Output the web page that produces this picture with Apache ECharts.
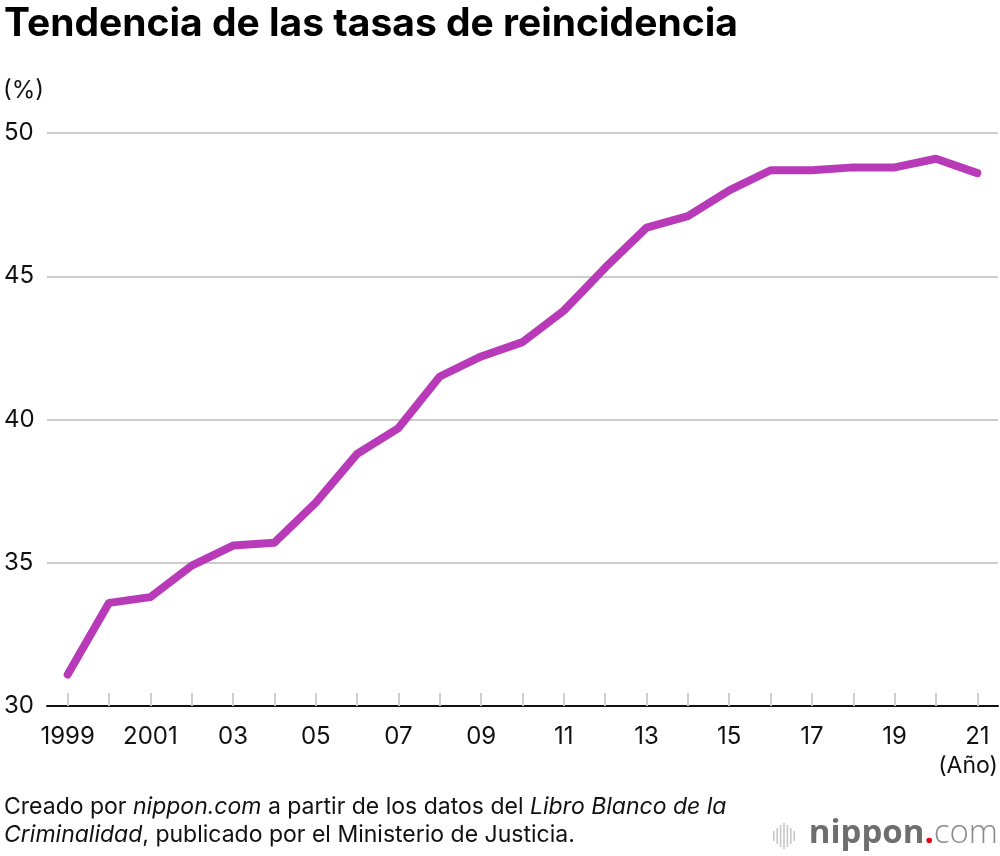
<!DOCTYPE html>
<html>
<head>
<meta charset="utf-8">
<script src="https://cdn.jsdelivr.net/npm/echarts@6/dist/echarts.min.js"></script>
<style>
  html, body { margin: 0; padding: 0; background: #fff; }
  #main { width: 1000px; height: 856px; }
</style>
</head>
<body>
<div id="main"></div>
<script>
// tasa de reincidencia (%), 1999-2021
var years = ['1999', '2000', '2001', '2002', '2003', '2004', '2005', '2006', '2007', '2008', '2009', '2010',
    '2011', '2012', '2013', '2014', '2015', '2016', '2017', '2018', '2019', '2020', '2021'];
var rates = [31.1, 33.6, 33.8, 34.9, 35.6, 35.7, 37.1, 38.8, 39.7, 41.5, 42.2, 42.7,
    43.8, 45.3, 46.7, 47.1, 48.0, 48.7, 48.7, 48.8, 48.8, 49.1, 48.6];
var yTicks = [30, 35, 40, 45, 50];

var font = 'Inter, "Liberation Sans", Arial, sans-serif';
var myChart = echarts.init(document.getElementById('main'));

// small sound-wave bars of the logo
var waveH = [10, 16, 22, 26, 22, 16, 10];
var logoBars = waveH.map(function (h, i) {
    return {
        type: 'rect',
        shape: { x: 773 + i * 3.4, y: 836 - h / 2, width: 1.6, height: h },
        style: { fill: '#c8c8c8' }
    };
});

myChart.setOption({
    backgroundColor: '#fff',
    animation: false,
    grid: {
        left: 47,
        right: 2,
        top: 133,
        bottom: 150
    },
    xAxis: {
        type: 'category',
        boundaryGap: true,
        data: years,
        axisLine: { show: true, lineStyle: { color: '#111', width: 2 } },
        axisTick: {
            show: true,
            inside: true,
            alignWithLabel: true,
            interval: 0,
            length: 13,
            lineStyle: { color: '#cfcfcf', width: 2 }
        },
        axisLabel: {
            interval: 1,
            margin: 19,
            color: '#111',
            fontSize: 24,
            fontFamily: font,
            formatter: function (v, i) {
                if (i < 3) return v;
                return v.slice(2);
            }
        }
    },
    yAxis: {
        type: 'value',
        min: yTicks[0],
        max: yTicks[yTicks.length - 1],
        interval: 5,
        axisLine: { show: false },
        axisTick: { show: false },
        splitLine: { lineStyle: { color: '#cccccc', width: 2 } },
        axisLabel: {
            align: 'left',
            margin: 43,
            color: '#111',
            fontSize: 24,
            fontFamily: font
        }
    },
    series: [{
        type: 'line',
        data: rates,
        symbol: 'none',
        lineStyle: { color: '#b93ab9', width: 8, cap: 'round', join: 'round' }
    }],
    graphic: [
        {
            type: 'text', left: 4, top: 5,
            style: { text: 'Tendencia de las tasas de reincidencia', fill: '#000',
                font: 'bold 39px ' + font }
        },
        {
            type: 'text', left: 3, top: 79,
            style: { text: '(%)', fill: '#111', font: '24px ' + font }
        },
        {
            type: 'text', right: 2, top: 755,
            style: { text: '(Año)', fill: '#111', font: '23px ' + font }
        },
        {
            type: 'text', left: 4, top: 796,
            style: {
                text: '{n|Creado por }{i|nippon.com}{n| a partir de los datos del }{i|Libro Blanco de la}\n{i|Criminalidad}{n|, publicado por el Ministerio de Justicia.}',
                rich: {
                    n: { fontSize: 23, fontFamily: font, fill: '#111', lineHeight: 28 },
                    i: { fontSize: 23, fontFamily: font, fontStyle: 'italic', fill: '#111', lineHeight: 28 }
                }
            }
        },
        {
            type: 'group',
            children: logoBars
        },
        {
            type: 'text', right: 2, top: 817,
            style: {
                text: '{a|nippon}{d|.}{c|com}',
                rich: {
                    a: { fontSize: 33, fontFamily: '"Open Sans", sans-serif', fontWeight: 'bold', fill: '#6e6e6e' },
                    d: { fontSize: 33, fontFamily: '"Open Sans", sans-serif', fontWeight: 'bold', fill: '#e60012' },
                    c: { fontSize: 33, fontFamily: '"Open Sans", sans-serif', fontWeight: 300, fill: '#8a8a8a' }
                }
            }
        }
    ]
});
window.onresize = function () {
    myChart.resize();
};
</script>
</body>
</html>
